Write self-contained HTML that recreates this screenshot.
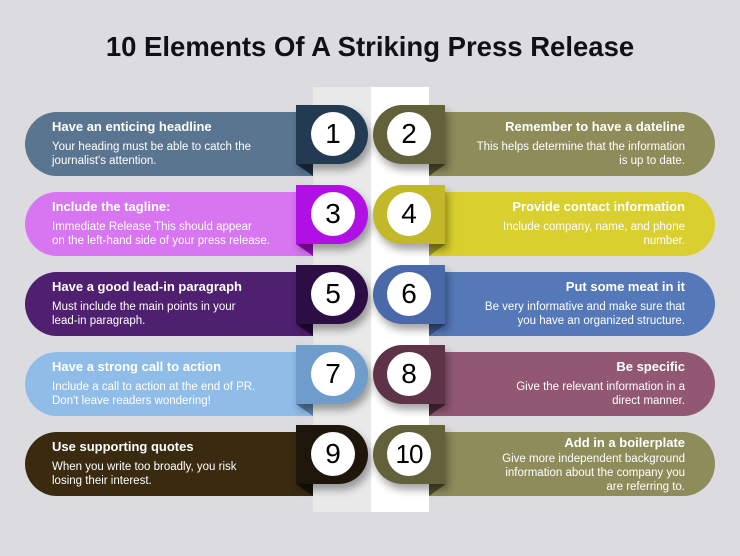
<!DOCTYPE html><html><head><style>
body{margin:0;width:740px;height:556px;background:#dcdce0;position:relative;overflow:hidden;font-family:"Liberation Sans",sans-serif}
.a{position:absolute}
h1{position:absolute;top:31px;left:0;width:740px;text-align:center;margin:0;font-size:27.5px;font-weight:bold;color:#111}
.bar{position:absolute;height:64px}
.l{left:25px;width:288px;border-radius:32px 0 0 32px}
.r{left:429px;width:286px;border-radius:0 32px 32px 0}
.tab{position:absolute;width:72px;height:59px;box-shadow:3px 6px 8px rgba(0,0,0,.35)}
.tl{left:296px;border-radius:0 30px 30px 0}
.tr{left:373px;border-radius:30px 0 0 30px}
.c{position:absolute;width:44px;height:44px;border-radius:50%;background:#fff;text-align:center;line-height:44px;font-size:28px;color:#000}
.f{position:absolute;width:0;height:0}
.t{position:absolute;color:#fff;font-size:11.5px;line-height:14px;white-space:nowrap}
.t b{display:block;font-size:13px;margin-bottom:6px}
.tx{left:52px;width:240px}
.ty{right:55px;width:250px;text-align:right}
</style></head><body>
<h1>10 Elements Of A Striking Press Release</h1>
<div class="a" style="left:313px;top:87px;width:58px;height:425px;background:#e9e9ea"></div>
<div class="a" style="left:371px;top:87px;width:58px;height:425px;background:#fff"></div>
<div id="g"></div>
<script>
var d=[
["#5a7590","#223a52","Have an enticing headline","Your heading must be able to catch the<br>journalist's attention."],
["#8e8c5a","#62613a","Remember to have a dateline","This helps determine that the information<br>is up to date."],
["#d776f0","#b010e4","Include the tagline:","Immediate Release This should appear<br>on the left-hand side of your press release."],
["#d9cf2e","#c3b82a","Provide contact information","Include company, name, and phone<br>number."],
["#4f1f70","#2c0e44","Have a good lead-in paragraph","Must include the main points in your<br>lead-in paragraph."],
["#5578b8","#4a69a8","Put some meat in it","Be very informative and make sure that<br>you have an organized structure."],
["#8fbde8","#6e9ccb","Have a strong call to action","Include a call to action at the end of PR.<br>Don't leave readers wondering!"],
["#925873","#5e3347","Be specific","Give the relevant information in a<br>direct manner."],
["#3a2a10","#1e160a","Use supporting quotes","When you write too broadly, you risk<br>losing their interest."],
["#8e8c5a","#62613a","Add in a boilerplate","Give more independent background<br>information about the company you<br>are referring to."]];
var h="";
d.forEach(function(e,i){var row=Math.floor(i/2),y=105+row*80,L=i%2==0;
var top=(i==9)?y+11:y+15;
if(L){h+='<div class="bar l" style="top:'+(y+7)+'px;background:'+e[0]+'"></div>';
h+='<div class="f" style="left:296px;top:'+(y+59)+'px;border-top:12px solid '+e[1]+';border-left:17px solid transparent;filter:brightness(.8)"></div>';
h+='<div class="tab tl" style="top:'+y+'px;background:'+e[1]+'"></div>';
h+='<div class="c" style="left:311px;top:'+(y+7)+'px">'+(i+1)+'</div>';
h+='<div class="t tx" style="top:'+top+'px"><b>'+e[2]+'</b>'+e[3]+'</div>';}
else{h+='<div class="bar r" style="top:'+(y+7)+'px;background:'+e[0]+'"></div>';
h+='<div class="f" style="left:429px;top:'+(y+59)+'px;border-top:12px solid '+e[1]+';border-right:17px solid transparent;filter:brightness(.8)"></div>';
h+='<div class="tab tr" style="top:'+y+'px;background:'+e[1]+'"></div>';
h+='<div class="c" style="left:387px;top:'+(y+7)+'px;'+(i==9?'font-size:26px;letter-spacing:-1px':'')+'">'+(i+1)+'</div>';
h+='<div class="t ty" style="top:'+top+'px"><b'+(i==9?' style="margin-bottom:2px"':'')+'>'+e[2]+'</b>'+e[3]+'</div>';}
});
document.getElementById("g").innerHTML=h;
</script>
</body></html>
